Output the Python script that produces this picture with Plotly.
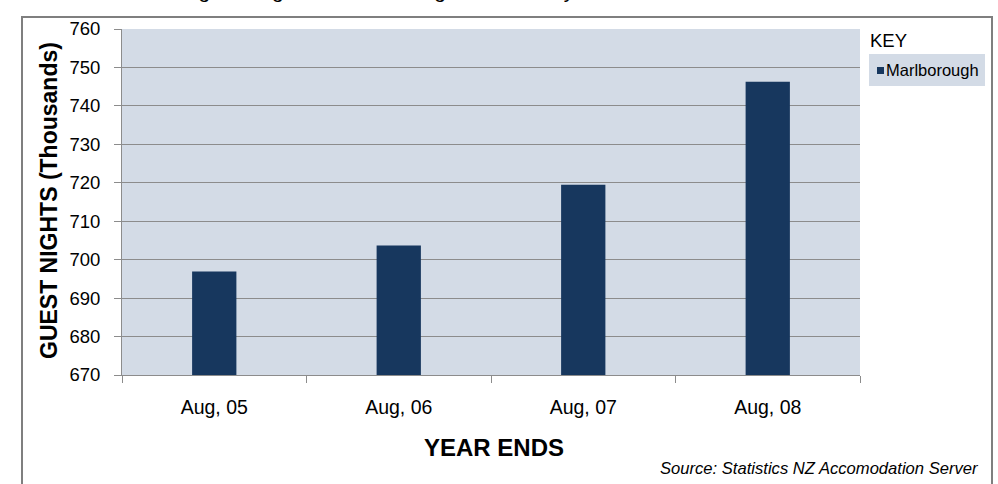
import plotly.graph_objects as go

# Guest nights (thousands), year ending August
years = ["Aug, 05", "Aug, 06", "Aug, 07", "Aug, 08"]
guest_nights = [696.9, 703.7, 719.5, 746.3]
series_name = "Marlborough"
y_ticks = [670, 680, 690, 700, 710, 720, 730, 740, 750, 760]

BAR = "#17375E"
PLOT_BG = "#D3DBE6"
GRID = "#8C8C8C"
FONT = "Liberation Sans, Arial, sans-serif"

fig = go.Figure(
    go.Bar(x=years, y=guest_nights, name=series_name, marker_color=BAR,
           marker_line_width=0, width=0.24, showlegend=False)
)

# plot area: x 122..860, y 29..375 pixels
L, R, T, B = 122, 138, 29, 109
W, H = 998 - L - R, 484 - T - B


def px(x):
    return (x - L) / W


def py(y):
    return (484 - B - y) / H


shapes = [
    # outer frame
    dict(type="rect", xref="paper", yref="paper", x0=px(22), x1=px(992),
         y0=py(520), y1=py(17), line=dict(color="#7F7F7F", width=2),
         fillcolor="rgba(0,0,0,0)", layer="below"),
    # legend background
    dict(type="rect", xref="paper", yref="paper", x0=px(869), x1=px(985),
         y0=py(86), y1=py(54), line=dict(width=0), fillcolor=PLOT_BG),
    # legend swatch
    dict(type="rect", xref="paper", yref="paper", x0=px(877), x1=px(884),
         y0=py(74), y1=py(67), line=dict(width=0), fillcolor=BAR),
]

annotations = [
    dict(text="The number of guest nights in Marlborough has steadily increased since 2005",
         xref="paper", yref="paper", x=px(54), y=py(4), xanchor="left", yanchor="bottom",
         showarrow=False, font=dict(family=FONT, size=21, color="#000")),
    dict(text="<b>GUEST NIGHTS (Thousands)</b>", textangle=-90,
         xref="paper", yref="paper", x=px(49), y=py(201), xanchor="center", yanchor="middle",
         showarrow=False, font=dict(family=FONT, size=23, color="#000")),
    dict(text="<b>YEAR ENDS</b>",
         xref="paper", yref="paper", x=px(494), y=py(447), xanchor="center", yanchor="middle",
         showarrow=False, font=dict(family=FONT, size=24, color="#000")),
    dict(text="KEY",
         xref="paper", yref="paper", x=px(868), y=py(41), xanchor="left", yanchor="middle",
         showarrow=False, font=dict(family=FONT, size=18.5, color="#000")),
    dict(text=series_name,
         xref="paper", yref="paper", x=px(884), y=py(70), xanchor="left", yanchor="middle",
         showarrow=False, font=dict(family=FONT, size=16.5, color="#000")),
    dict(text="<i>Source: Statistics NZ Accomodation Server</i>",
         xref="paper", yref="paper", x=px(981), y=py(468), xanchor="right", yanchor="middle",
         showarrow=False, font=dict(family=FONT, size=16.6, color="#000")),
]

fig.update_layout(
    width=998, height=484,
    margin=dict(l=L, r=R, t=T, b=B, autoexpand=False),
    paper_bgcolor="white", plot_bgcolor=PLOT_BG,
    bargap=0.76,
    shapes=shapes, annotations=annotations,
    font=dict(family=FONT, color="#000"),
    xaxis=dict(
        type="category", tickson="boundaries", ticks="outside", ticklen=7,
        tickcolor=GRID, showline=True, linecolor=GRID, linewidth=1,
        showgrid=False, tickfont=dict(size=19.5), ticklabelstandoff=15,
        range=[-0.5, 3.5],
    ),
    yaxis=dict(
        range=[670, 760], tickvals=y_ticks, ticks="outside", ticklen=7,
        tickcolor=GRID, showline=True, linecolor=GRID, linewidth=1,
        showgrid=True, gridcolor=GRID, gridwidth=1, zeroline=False,
        tickfont=dict(size=18.5), ticklabelstandoff=10,
    ),
)

fig.write_html("out.html")
